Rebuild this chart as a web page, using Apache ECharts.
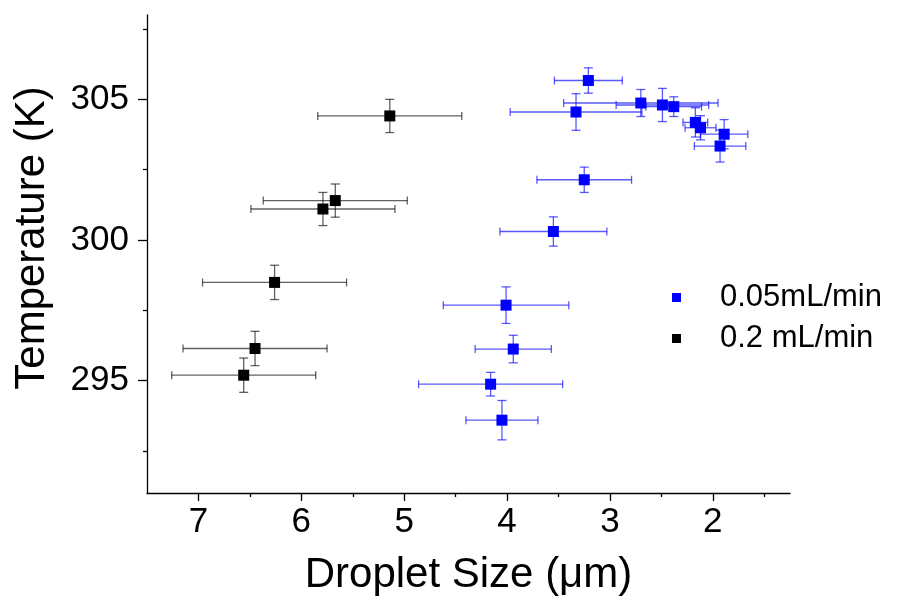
<!DOCTYPE html>
<html><head><meta charset="utf-8">
<script src="https://cdn.jsdelivr.net/npm/echarts@6/dist/echarts.min.js"></script>
<style>html,body{margin:0;padding:0;background:#fff}#c{width:902px;height:602px}</style>
</head><body><div id="c"></div>
<script>
// ---- data ----
const seriesNames = ['0.05mL/min', '0.2 mL/min'];
const blueX    = [3.21, 3.33, 2.70, 2.49, 2.38, 2.17, 2.12, 1.89, 1.93, 3.25, 3.55, 4.01, 3.94, 4.16, 4.05];
const blueY    = [305.67, 304.55, 304.87, 304.80, 304.74, 304.18, 303.99, 303.76, 303.34, 302.14, 300.30, 297.68, 296.12, 294.87, 293.59];
const blueXErr = [0.33, 0.64, 0.75, 0.45, 0.27, 0.12, 0.15, 0.23, 0.25, 0.46, 0.52, 0.61, 0.37, 0.70, 0.35];
const blueYErr = [0.45, 0.65, 0.48, 0.59, 0.35, 0.52, 0.43, 0.52, 0.57, 0.45, 0.52, 0.65, 0.49, 0.42, 0.70];
const blackX    = [5.14, 5.67, 5.79, 6.26, 6.45, 6.56];
const blackY    = [304.41, 301.40, 301.10, 298.49, 296.14, 295.19];
const blackXErr = [0.70, 0.70, 0.70, 0.70, 0.70, 0.70];
const blackYErr = [0.59, 0.59, 0.59, 0.61, 0.61, 0.61];
const xMajorTicks = [2, 3, 4, 5, 6, 7];
const xMinorTicks = [1.5, 2.5, 3.5, 4.5, 5.5, 6.5];
const yMajorTicks = [295, 300, 305];
const yMinorTicks = [292.5, 297.5, 302.5, 307.5];
const xRange = [1.25, 7.5];
const yRange = [291, 308];

// ---- build ----
const FONT = "'Liberation Sans', Arial, sans-serif";
function zip4(a, b, c, d) { return a.map((v, i) => [v, b[i], c[i], d[i]]); }
const blueData = zip4(blueX, blueY, blueXErr, blueYErr);
const blackData = zip4(blackX, blackY, blackXErr, blackYErr);

function makeErr(color) {
  return function (params, api) {
    const x = api.value(0), y = api.value(1), ex = api.value(2), ey = api.value(3);
    const a = api.coord([x - ex, y]), b = api.coord([x + ex, y]);
    const t = api.coord([x, y + ey]), d = api.coord([x, y - ey]);
    const hc = 4, vc = 4.5;
    const st = () => ({ stroke: color, lineWidth: 1.3 });
    const L = (x1, y1, x2, y2) => ({ type: 'line', shape: { x1, y1, x2, y2 }, style: st() });
    return {
      type: 'group',
      children: [
        L(a[0], a[1], b[0], b[1]),
        L(a[0], a[1] - hc, a[0], a[1] + hc),
        L(b[0], b[1] - hc, b[0], b[1] + hc),
        L(t[0], t[1], d[0], d[1]),
        L(t[0] - vc, t[1], t[0] + vc, t[1]),
        L(d[0] - vc, d[1], d[0] + vc, d[1])
      ]
    };
  };
}

const chart = echarts.init(document.getElementById('c'), null, { renderer: 'canvas' });
const axisLine = { show: true, lineStyle: { color: '#000', width: 1.3 } };
chart.setOption({
  animation: false,
  backgroundColor: '#fff',
  textStyle: { fontFamily: FONT },
  grid: { left: 147, right: 112, top: 15, bottom: 109, containLabel: false },
  legend: {
    orient: 'vertical', left: 667, top: 277,
    itemWidth: 9, itemHeight: 9, itemGap: 10,
    icon: 'rect',
    data: seriesNames,
    textStyle: { fontFamily: FONT, fontSize: 31, color: '#000', padding: [0, 0, 0, 34] }
  },
  xAxis: [{
    type: 'value', inverse: true, min: xRange[0], max: xRange[1], position: 'bottom',
    axisLine,
    splitLine: { show: false },
    axisTick: { show: true, length: 8, customValues: xMajorTicks, lineStyle: { color: '#000', width: 1.3 } },
    axisLabel: { customValues: xMajorTicks, fontFamily: FONT, fontSize: 35, color: '#000', margin: 12 },
    name: 'Droplet Size (μm)', nameLocation: 'middle', nameGap: 61,
    nameTextStyle: { fontFamily: FONT, fontSize: 42, color: '#000' }
  }, {
    type: 'value', inverse: true, min: xRange[0], max: xRange[1], position: 'bottom',
    axisLine: { show: false }, splitLine: { show: false },
    axisTick: { show: true, length: 4, customValues: xMinorTicks, lineStyle: { color: '#000', width: 1.3 } },
    axisLabel: { show: false }
  }],
  yAxis: [{
    type: 'value', min: yRange[0], max: yRange[1], position: 'left',
    axisLine,
    splitLine: { show: false },
    axisTick: { show: true, length: 9, customValues: yMajorTicks, lineStyle: { color: '#000', width: 1.3 } },
    axisLabel: { customValues: yMajorTicks, fontFamily: FONT, fontSize: 35, color: '#000', margin: 18 },
    name: 'Temperature (K)', nameLocation: 'middle', nameGap: 94, nameRotate: 90,
    nameTextStyle: { fontFamily: FONT, fontSize: 42, color: '#000', padding: [0, 0, 0, 32] }
  }, {
    type: 'value', min: yRange[0], max: yRange[1], position: 'left',
    axisLine: { show: false }, splitLine: { show: false },
    axisTick: { show: true, length: 4, customValues: yMinorTicks, lineStyle: { color: '#000', width: 1.3 } },
    axisLabel: { show: false }
  }],
  series: [
    { type: 'custom', name: seriesNames[1] + ' err', xAxisIndex: 0, yAxisIndex: 0, data: blackData,
      encode: { x: 0, y: 1 }, renderItem: makeErr('rgba(0,0,0,0.62)'), silent: true, z: 2 },
    { type: 'custom', name: seriesNames[0] + ' err', xAxisIndex: 0, yAxisIndex: 0, data: blueData,
      encode: { x: 0, y: 1 }, renderItem: makeErr('rgba(0,0,255,0.65)'), silent: true, z: 2 },
    { type: 'scatter', name: seriesNames[0], xAxisIndex: 0, yAxisIndex: 0, symbol: 'rect', symbolSize: 11,
      itemStyle: { color: '#0000ff', opacity: 1 }, data: blueX.map((v, i) => [v, blueY[i]]), z: 5 },
    { type: 'scatter', name: seriesNames[1], xAxisIndex: 0, yAxisIndex: 0, symbol: 'rect', symbolSize: 11,
      itemStyle: { color: '#000000', opacity: 1 }, data: blackX.map((v, i) => [v, blackY[i]]), z: 5 }
  ]
});
</script>
</body></html>
